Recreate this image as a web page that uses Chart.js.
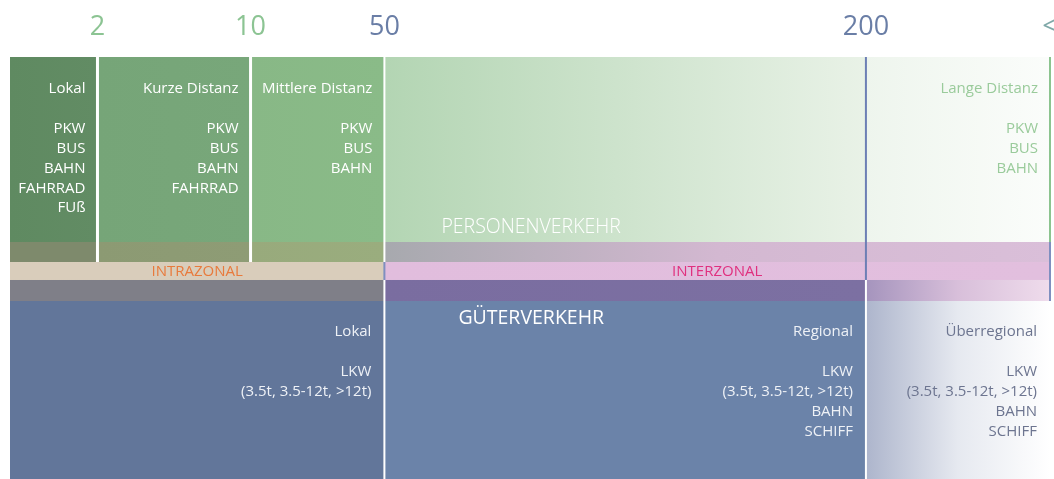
<!DOCTYPE html>
<html>
<head>
<meta charset="utf-8">
<script src="https://cdn.jsdelivr.net/npm/chart.js@4.4.1/dist/chart.umd.min.js"></script>
<style>
  html, body { margin: 0; padding: 0; background: #fff; }
  #wrap { width: 1054px; height: 479px; }
</style>
</head>
<body>
<div id="wrap"><canvas id="chart"></canvas></div>
<script>
// distance classes (km) shown along the top
const distanceLabels = ["2", "10", "50", "200", "<"];
const distanceColors = ["#8cc493", "#8cc493", "#6a7ea6", "#6a7ea6", "#7fa8a8"];

// passenger transport, one entry per distance segment
const passengerClasses = ["Lokal", "Kurze Distanz", "Mittlere Distanz", "", "Lange Distanz"];
const passengerModes = [
  ["PKW", "BUS", "BAHN", "FAHRRAD", "FUß"],
  ["PKW", "BUS", "BAHN", "FAHRRAD"],
  ["PKW", "BUS", "BAHN"],
  [],
  ["PKW", "BUS", "BAHN"],
];

// freight transport, spans of distance segments
const freightClasses = ["Lokal", "Regional", "Überregional"];
const freightSpans = [[0, 3], [3, 4], [4, 5]];
const freightModes = [
  ["LKW", "(3.5t, 3.5-12t, >12t)"],
  ["LKW", "(3.5t, 3.5-12t, >12t)", "BAHN", "SCHIFF"],
  ["LKW", "(3.5t, 3.5-12t, >12t)", "BAHN", "SCHIFF"],
];

const zoneLabels = ["INTRAZONAL", "INTERZONAL"];
const sectorLabels = ["PERSONENVERKEHR", "GÜTERVERKEHR"];

// layout: where the segment / row borders sit on the (0..100) axes
const xBreaks = [0, 8.41, 23.13, 36.0, 82.3, 100];
const yBreaks = [0, 43.84, 48.58, 52.84, 57.82, 100];

const FONT = "'Open Sans', 'Liberation Sans', sans-serif";

// fills per row / segment span
const boxes = [
  { r: 0, s: [0, 1], fill: ["#5f8a61", "#628c64"] },
  { r: 0, s: [1, 2], fill: ["#76a578", "#78a77a"] },
  { r: 0, s: [2, 3], fill: ["#88b886", "#8abb88"] },
  { r: 0, s: [3, 4], fill: ["#b3d5b3", "#e9f2e7"] },
  { r: 0, s: [4, 5], fill: ["#eef5ed", "#fbfdfb"] },
  { r: 1, s: [0, 1], fill: ["#7e8a6c", "#7e8a6c"] },
  { r: 1, s: [1, 2], fill: ["#8c9a73", "#8e9c75"] },
  { r: 1, s: [2, 3], fill: ["#98aa7c", "#9aad7e"] },
  { r: 1, s: [3, 5], fill: ["#a7a9ae", "#d3b8d1", "#dabfd9"] },
  { r: 2, s: [0, 3], fill: ["#d9cdbb", "#d9cdbb"] },
  { r: 2, s: [3, 5], fill: ["#e1bddd", "#e2bfde"] },
  { r: 3, s: [0, 3], fill: ["#7f7f88", "#7f7f88"] },
  { r: 3, s: [3, 4], fill: ["#7a6da0", "#7c70a2"] },
  { r: 3, s: [4, 5], fill: ["#a594bd", "#d8bfda", "#efdcec"] },
  { r: 4, s: [0, 3], fill: ["#62769a", "#62769a"] },
  { r: 4, s: [3, 4], fill: ["#6b83a9", "#6b83a9"] },
  { r: 4, s: [4, 5], fill: ["#adb5cc", "#e6e9f0", "#ffffff"] },
];

// separator lines: at break b, from row r0 to row r1
const lines = [
  { b: 1, r: [0, 2], color: "#ffffff", w: 3 },
  { b: 2, r: [0, 2], color: "#ffffff", w: 3 },
  { b: 3, r: [0, 2], color: "#ffffff", w: 2 },
  { b: 3, r: [2, 3], color: "#7f8fc0", w: 2 },
  { b: 3, r: [3, 5], color: "#ffffff", w: 2 },
  { b: 4, r: [0, 3], color: "#6d7fb5", w: 2 },
  { b: 4, r: [3, 5], color: "#ffffff", w: 2 },
  { b: 5, r: [0, 1], color: "#8cc48f", w: 2 },
  { b: 5, r: [1, 4], color: "#7f8fc0", w: 2 },
];

const diagramPlugin = {
  id: "diagram",
  beforeDatasetsDraw(chart) {
    const { ctx } = chart;
    const sx = chart.scales.x, sy = chart.scales.y;
    const px = (i) => sx.getPixelForValue(xBreaks[i]);
    const py = (j) => sy.getPixelForValue(yBreaks[j]);

    ctx.save();
    boxes.forEach((b) => {
      const x0 = px(b.s[0]), x1 = px(b.s[1]);
      const y0 = py(b.r), y1 = py(b.r + 1);
      const g = ctx.createLinearGradient(x0, 0, x1, 0);
      b.fill.forEach((c, k) => g.addColorStop(k / (b.fill.length - 1), c));
      ctx.fillStyle = g;
      ctx.fillRect(x0, y0, x1 - x0, y1 - y0);
    });
    lines.forEach((l) => {
      const x = px(l.b);
      ctx.fillStyle = l.color;
      ctx.fillRect(x - l.w / 2, py(l.r[0]), l.w, py(l.r[1]) - py(l.r[0]));
    });

    ctx.textBaseline = "middle";
    // passenger classes
    ctx.textAlign = "right";
    ctx.font = "15px " + FONT;
    passengerClasses.forEach((name, i) => {
      if (!name) return;
      const xr = px(i + 1) - 12;
      const top = py(0);
      ctx.fillStyle = i === 4 ? "#9acb9b" : "#ffffff";
      ctx.fillText(name, xr, top + 32);
      passengerModes[i].forEach((m, k) => ctx.fillText(m, xr, top + 72 + k * 19.8));
    });
    // freight classes
    freightClasses.forEach((name, i) => {
      const xr = px(freightSpans[i][1]) - 13;
      const top = py(4);
      ctx.fillStyle = i === 2 ? "#6d7590" : "#eef1f6";
      ctx.fillText(name, xr, top + 31);
      freightModes[i].forEach((m, k) => ctx.fillText(m, xr, top + 71 + k * 19.8));
    });

    // sector titles
    ctx.textAlign = "left";
    ctx.fillStyle = "#ffffff";
    ctx.font = "300 19.5px " + FONT;
    ctx.fillText(sectorLabels[0], px(3) + 57, py(1) - 15);
    ctx.font = "19.5px " + FONT;
    ctx.fillText(sectorLabels[1], px(3) + 74, py(4) + 17);

    // zone labels
    ctx.textAlign = "center";
    ctx.font = "15px " + FONT;
    const zy = (py(2) + py(3)) / 2 + 0.5;
    ctx.fillStyle = "#e87a3c";
    ctx.fillText(zoneLabels[0], (px(0) + px(3)) / 2, zy);
    ctx.fillStyle = "#e0307f";
    ctx.fillText(zoneLabels[1], (px(3) + px(5)) / 2, zy);
    ctx.restore();
  },
};

new Chart(document.getElementById("chart"), {
  type: "scatter",
  data: { datasets: [{ data: [] }] },
  options: {
    responsive: true,
    maintainAspectRatio: false,
    animation: false,
    layout: { padding: { left: 10, right: 4, top: 0, bottom: 0 } },
    plugins: { legend: { display: false }, tooltip: { enabled: false } },
    scales: {
      x: {
        type: "linear",
        position: "top",
        min: 0,
        max: 100,
        grid: { display: false },
        border: { display: false },
        afterBuildTicks: (s) => {
          s.ticks = xBreaks.slice(1).map((v) => ({ value: v }));
        },
        afterFit: (s) => {
          s.height = 57;
          s.paddingLeft = 0;
          s.paddingRight = 0;
        },
        ticks: {
          autoSkip: false,
          maxRotation: 0,
          padding: 5,
          font: { family: FONT, size: 27 },
          color: (c) => distanceColors[c.index],
          callback: (v, i) => distanceLabels[i],
        },
      },
      y: { type: "linear", min: 0, max: 100, reverse: true, display: false },
    },
  },
  plugins: [diagramPlugin],
});
</script>
</body>
</html>
